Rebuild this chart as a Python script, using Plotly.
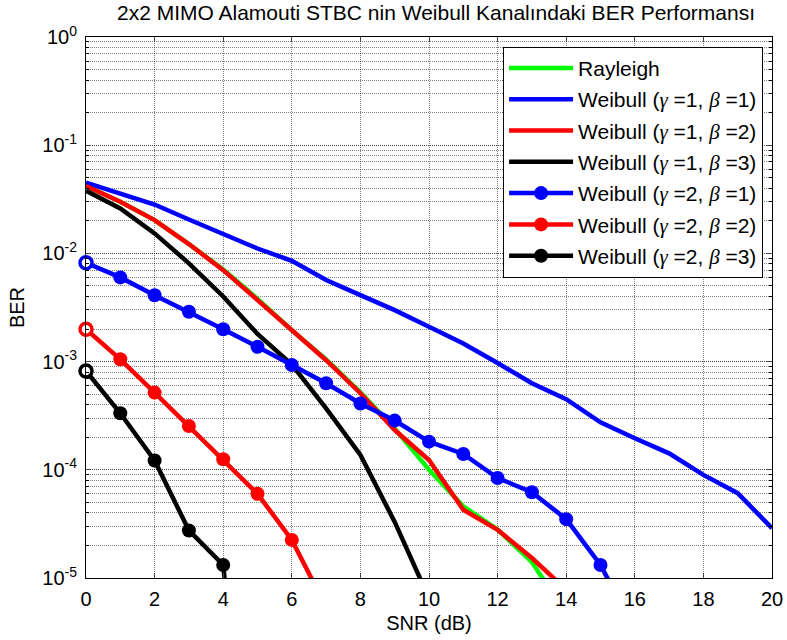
import plotly.graph_objects as go

snr = list(range(0, 21))

rayleigh = [0.042, 0.030, 0.0203, 0.0122, 0.0071, 0.0038, 0.00195, 0.00105, 0.00052,
            0.00024, 0.0001, 4.6e-5, 2.8e-5, 1.4e-5, 4.7e-6]
w_g1_b1 = [0.045, 0.0358, 0.0283, 0.0206, 0.0153, 0.0111, 0.00855, 0.00567, 0.00412,
           0.00299, 0.0021, 0.00147, 0.00097, 0.00063, 0.000449, 0.000275, 0.000196,
           0.000142, 8.97e-5, 6.08e-5, 2.89e-5]
w_g1_b2 = [0.042, 0.030, 0.0203, 0.0122, 0.0070, 0.0037, 0.0019, 0.00103, 0.00051,
           0.000233, 0.000123, 4.27e-5, 2.79e-5, 1.53e-5, 7.8e-6]
w_g1_b3 = [0.038, 0.026, 0.0153, 0.0081, 0.0040, 0.0018, 0.00094, 0.00037, 0.000137,
           3.3e-5, 6.5e-6]
w_g2_b1 = [0.0082, 0.006, 0.0041, 0.00289, 0.00199, 0.00137, 0.00093, 0.00063, 0.00041,
           0.000285, 0.000182, 0.00014, 8.4e-5, 6.2e-5, 3.5e-5, 1.32e-5, 3.3e-6]
w_g2_b2 = [0.00199, 0.00105, 0.000517, 0.000254, 0.000125, 6.0e-5, 2.25e-5, 5.4e-6]
w_g2_b3 = [0.00082, 0.000333, 0.000122, 2.75e-5, 1.32e-5, 1e-8]

x_ticks = list(range(0, 21, 2))
y_ticks = [1e-5, 1e-4, 1e-3, 1e-2, 1e-1, 1e0]
y_tick_text = ["10<sup>-5</sup>", "10<sup>-4</sup>", "10<sup>-3</sup>", "10<sup>-2</sup>",
               "10<sup>-1</sup>", "10<sup>0</sup>"]

title = "2x2 MIMO Alamouti STBC nin Weibull Kanalındaki BER Performansı"

G = '<span style="font-family:Liberation Serif"><i>γ</i></span>'
B = '<span style="font-family:Liberation Serif"><i>β</i></span>'


def wname(g, b):
    return f"Weibull ({G} =" + str(g) + f", {B} =" + str(b) + ")"


series = [
    ("Rayleigh", rayleigh, "#00ff00", False),
    (wname(1, 1), w_g1_b1, "#0000ff", False),
    (wname(1, 2), w_g1_b2, "#ff0000", False),
    (wname(1, 3), w_g1_b3, "#000000", False),
    (wname(2, 1), w_g2_b1, "#0000ff", True),
    (wname(2, 2), w_g2_b2, "#ff0000", True),
    (wname(2, 3), w_g2_b3, "#000000", True),
]

fig = go.Figure()
for i, (name, vals, col, mk) in enumerate(series):
    fig.add_trace(go.Scatter(
        x=snr[:len(vals)], y=vals, name=name,
        mode="lines+markers" if mk else "lines",
        line=dict(color=col, width=4.5),
        marker=dict(size=14, color=col, symbol="circle"),
        legendgroup=f"g{i}",
    ))
# first-point hollow rings
for i, (name, vals, col, mk) in enumerate(series):
    if mk:
        fig.add_trace(go.Scatter(
            x=snr[:1], y=vals[:1], mode="markers", showlegend=False,
            marker=dict(size=12, color="white", line=dict(color=col, width=3.5)),
            cliponaxis=False, hoverinfo="skip",
        ))

grid_col = "rgba(0,0,0,0.5)"
grid_dash = "1px,1px"
fig.update_layout(
    width=787, height=640,
    margin=dict(l=86, r=15, t=37, b=62, autoexpand=False),
    paper_bgcolor="white", plot_bgcolor="white",
    font=dict(family="Liberation Sans, Arial", size=19, color="black"),
    title=dict(text=title, x=0.554, xanchor="center", y=0.981, yanchor="middle",
               font=dict(size=21, family="Liberation Sans, Arial")),
    showlegend=True,
    legend=dict(x=0.987, xanchor="right", y=0.982, yanchor="top",
                bgcolor="white", bordercolor="black", borderwidth=1,
                font=dict(size=21), traceorder="grouped", tracegroupgap=1,
                itemwidth=64),
)
fig.update_xaxes(
    range=[0, 20], tickvals=x_ticks, ticks="inside", ticklen=5,
    showline=True, linecolor="black", linewidth=1, mirror="allticks",
    showgrid=True, gridcolor=grid_col, griddash=grid_dash, gridwidth=1,
    zeroline=False, ticklabelstandoff=3, automargin=False,
    tickfont=dict(size=20),
    title=dict(text="SNR (dB)", standoff=6, font=dict(size=20)),
)
fig.update_yaxes(
    type="log", range=[-5, 0], tickvals=y_ticks, ticktext=y_tick_text,
    ticks="inside", ticklen=5,
    showline=True, linecolor="black", linewidth=1, mirror="allticks",
    showgrid=True, gridcolor=grid_col, griddash=grid_dash, gridwidth=1,
    minor=dict(dtick="D1", ticks="inside", ticklen=3, showgrid=True, gridcolor=grid_col,
               griddash=grid_dash, tickcolor="black"),
    zeroline=False, ticklabelstandoff=4, automargin=False,
    tickfont=dict(size=20),
    title=dict(text="BER", standoff=12, font=dict(size=20)),
)

fig.write_html("out.html")
